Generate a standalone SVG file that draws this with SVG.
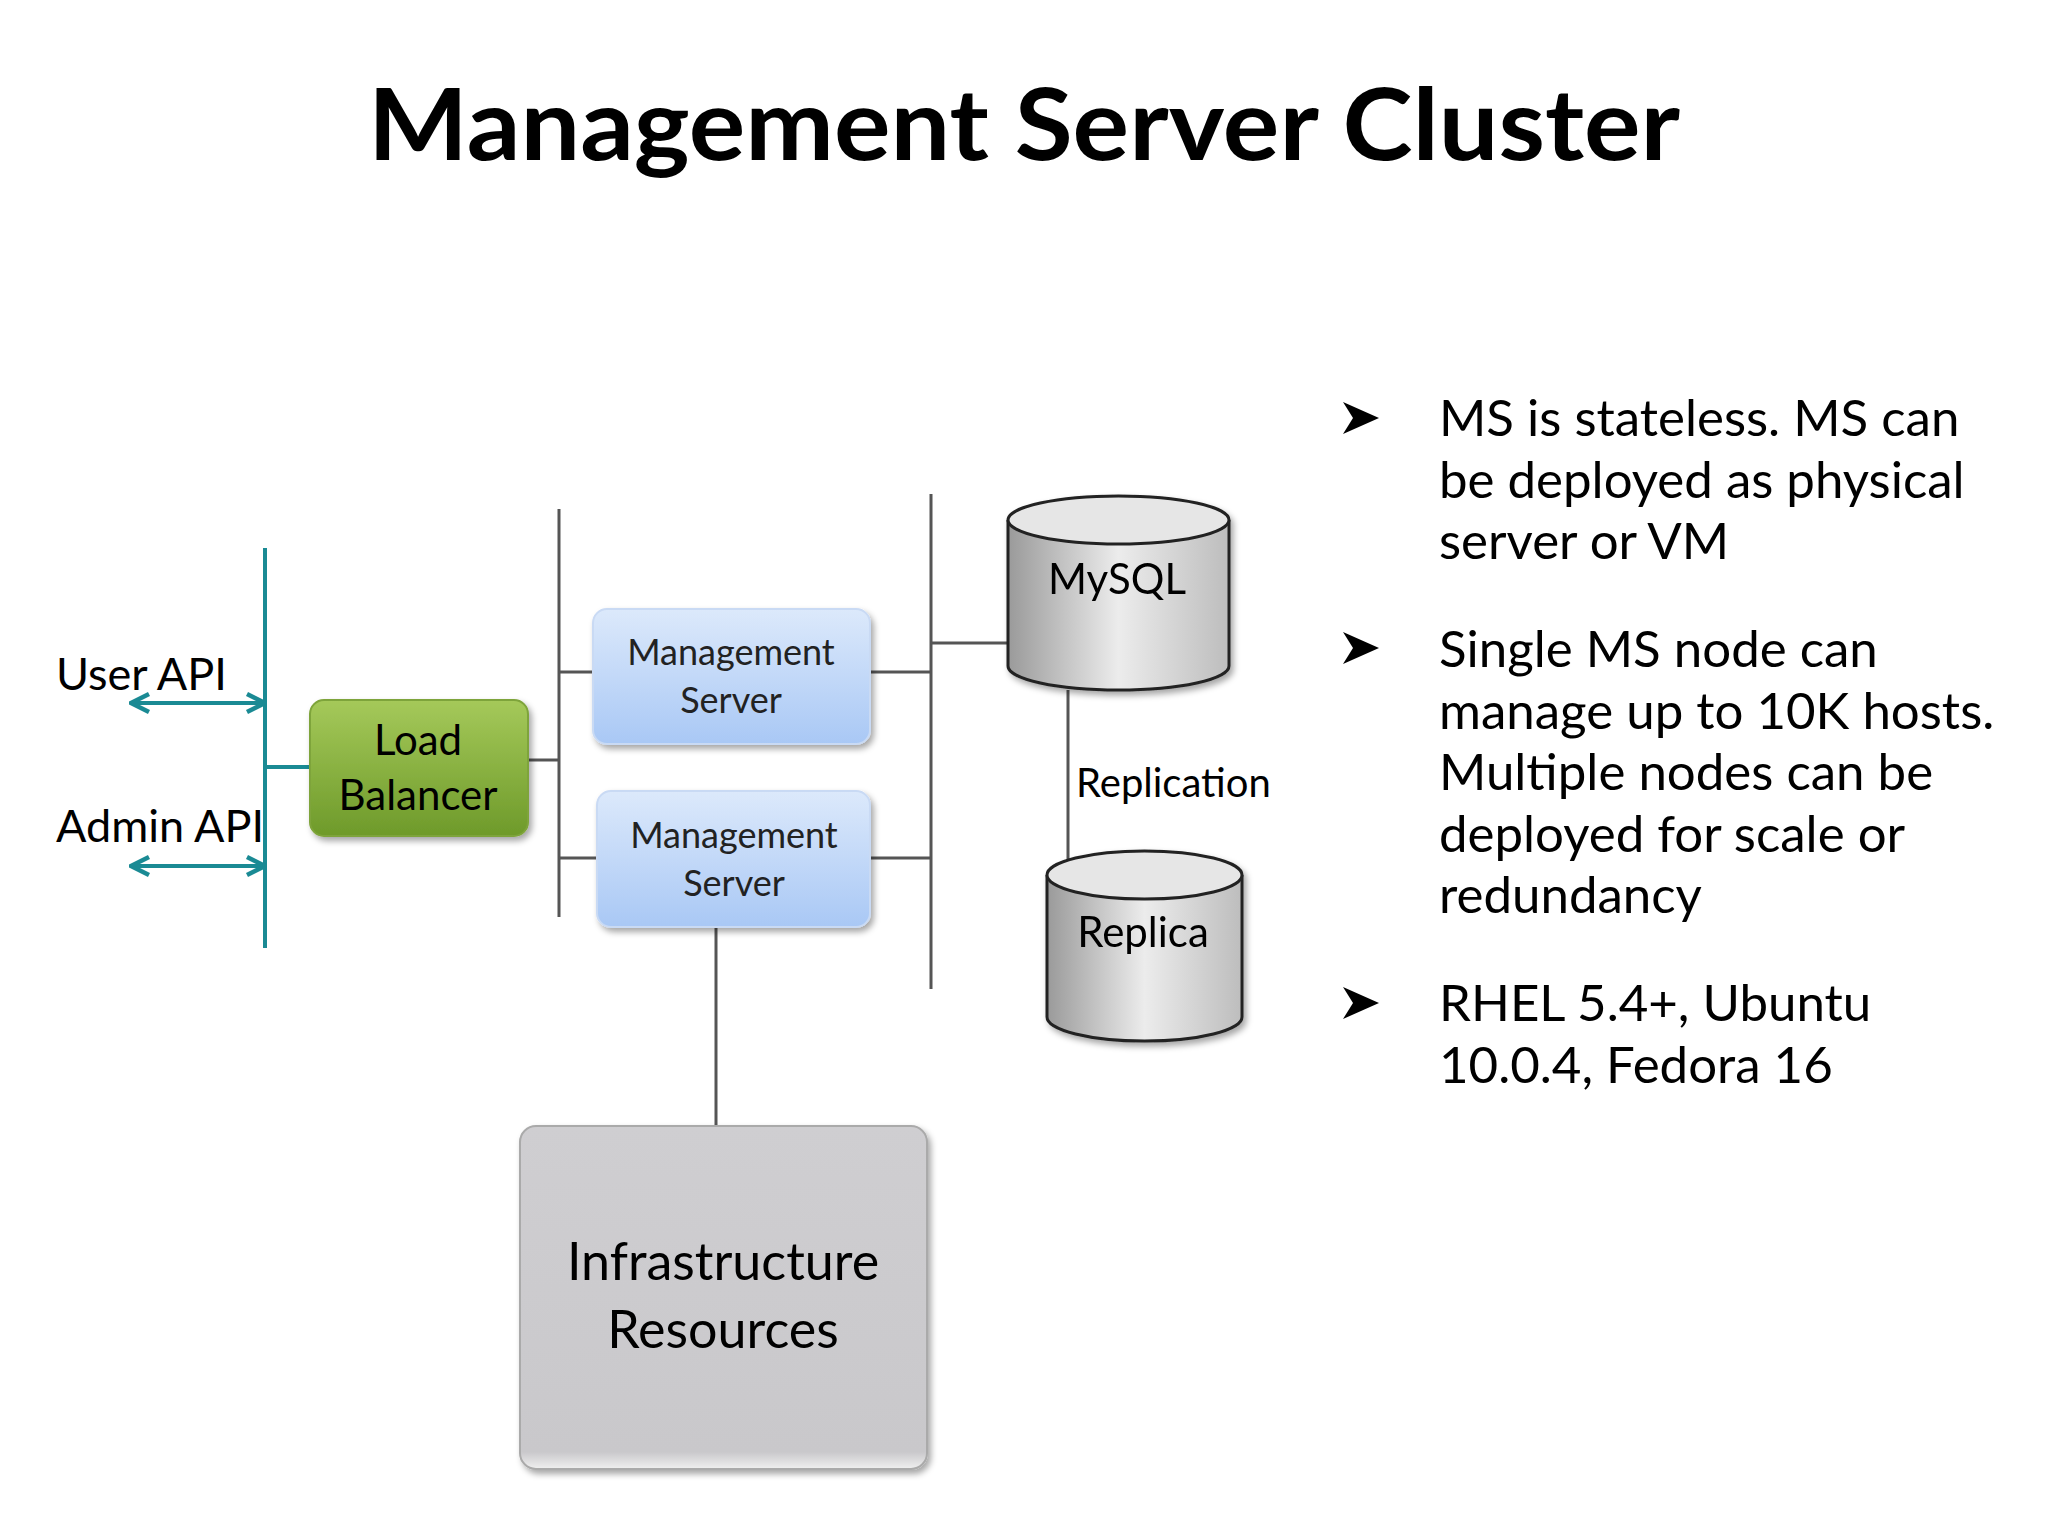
<svg xmlns="http://www.w3.org/2000/svg" width="2048" height="1536" viewBox="0 0 2048 1536">
<defs>
<style>
text{font-family:Lato,"Open Sans","Liberation Sans",sans-serif;fill:#000}
.t{font-size:45px}
.ms{font-size:36px;text-anchor:middle;fill:#222}
.b{font-size:51px}
.g{stroke:#555;stroke-width:3;fill:none}
.teal{stroke:#1a8a94;stroke-width:4;fill:none}
</style>
<linearGradient id="gg" x1="0" y1="0" x2="0" y2="1"><stop offset="0" stop-color="#a5c95a"/><stop offset="1" stop-color="#6e9a2a"/></linearGradient>
<linearGradient id="bg" x1="0" y1="0" x2="0" y2="1"><stop offset="0" stop-color="#dce9fb"/><stop offset="1" stop-color="#a9c8f5"/></linearGradient>
<linearGradient id="cg" x1="0" y1="0" x2="1" y2="0"><stop offset="0" stop-color="#9a9a9a"/><stop offset="0.5" stop-color="#ececec"/><stop offset="1" stop-color="#bdbdbd"/></linearGradient>
<linearGradient id="ig" x1="0" y1="0" x2="0" y2="1"><stop offset="0" stop-color="#cfced1"/><stop offset="0.95" stop-color="#c9c8cb"/><stop offset="1" stop-color="#f0f0f0"/></linearGradient>
<filter id="sh" x="-10%" y="-10%" width="130%" height="130%"><feDropShadow dx="3" dy="4" stdDeviation="3" flood-opacity="0.35"/></filter>
<marker id="ah" viewBox="0 0 24 24" refX="22" refY="12" markerWidth="24" markerHeight="24" markerUnits="userSpaceOnUse" orient="auto-start-reverse"><path d="M4,3 L22,12 L4,21" fill="none" stroke="#1a8a94" stroke-width="4.5" stroke-linejoin="miter"/></marker>
<path id="bul" d="M0,-16 L36,0 L0,16 L10,0 Z" fill="#000"/>
</defs>
<rect width="2048" height="1536" fill="#fff"/>
<text x="1024" y="160" text-anchor="middle" font-size="100" font-weight="bold" textLength="1312" lengthAdjust="spacingAndGlyphs">Management Server Cluster</text>

<g id="connectors">
<line class="teal" x1="265" y1="548" x2="265" y2="948"/>
<line class="teal" x1="131" y1="703" x2="265" y2="703" marker-start="url(#ah)" marker-end="url(#ah)"/>
<line class="teal" x1="131" y1="866" x2="265" y2="866" marker-start="url(#ah)" marker-end="url(#ah)"/>
<line class="teal" x1="265" y1="767" x2="310" y2="767"/>
<line class="g" x1="528" y1="760" x2="559" y2="760"/>
<line class="g" x1="559" y1="509" x2="559" y2="917"/>
<line class="g" x1="559" y1="672" x2="593" y2="672"/>
<line class="g" x1="559" y1="858" x2="597" y2="858"/>
<line class="g" x1="870" y1="672" x2="931" y2="672"/>
<line class="g" x1="870" y1="858" x2="931" y2="858"/>
<line class="g" x1="931" y1="494" x2="931" y2="989"/>
<line class="g" x1="931" y1="643" x2="1008" y2="643"/>
<line class="g" x1="1068" y1="690" x2="1068" y2="862"/>
<line class="g" x1="716" y1="927" x2="716" y2="1126"/>
</g>
<text class="t" x="56" y="690">User API</text>
<text class="t" x="56" y="842">Admin API</text>
<text x="1076" y="797" font-size="40">Replication</text>

<g id="lb">
<rect x="310" y="700" width="218" height="136" rx="14" fill="url(#gg)" stroke="#7ea43a" stroke-width="2" filter="url(#sh)"/>
<text x="418" y="755" text-anchor="middle" font-size="42" fill="#1e2a10">Load</text>
<text x="418" y="810" text-anchor="middle" font-size="42" fill="#1e2a10">Balancer</text>
</g>
<g id="ms1">
<rect x="593" y="609" width="277" height="135" rx="14" fill="url(#bg)" stroke="#c9daf4" stroke-width="2" filter="url(#sh)"/>
<text class="ms" x="731" y="665">Management</text>
<text class="ms" x="731" y="713">Server</text>
</g>
<g id="ms2">
<rect x="597" y="791" width="273" height="136" rx="14" fill="url(#bg)" stroke="#c9daf4" stroke-width="2" filter="url(#sh)"/>
<text class="ms" x="734" y="848">Management</text>
<text class="ms" x="734" y="896">Server</text>
</g>
<g id="mysql" filter="url(#sh)">
<path d="M1008,520 L1008,666 A110.5,24 0 0 0 1229,666 L1229,520" fill="url(#cg)" stroke="#222" stroke-width="3"/>
<ellipse cx="1118.5" cy="520" rx="110.5" ry="24" fill="#e6e6e6" stroke="#222" stroke-width="3"/>
<text x="1117" y="594" text-anchor="middle" font-size="42">MySQL</text>
</g>
<g id="replica" filter="url(#sh)">
<path d="M1047,875 L1047,1017 A97.5,24 0 0 0 1242,1017 L1242,875" fill="url(#cg)" stroke="#222" stroke-width="3"/>
<ellipse cx="1144.5" cy="875" rx="97.5" ry="24" fill="#e6e6e6" stroke="#222" stroke-width="3"/>
<text x="1143" y="947" text-anchor="middle" font-size="42">Replica</text>
</g>
<g id="infra">
<rect x="520" y="1126" width="407" height="343" rx="16" fill="url(#ig)" stroke="#aaa" stroke-width="2" filter="url(#sh)"/>
<text x="723" y="1280" text-anchor="middle" font-size="52">Infrastructure</text>
<text x="723" y="1348" text-anchor="middle" font-size="52">Resources</text>
</g>
<g id="bullets">
<use href="#bul" x="1343" y="418"/>
<use href="#bul" x="1343" y="648"/>
<use href="#bul" x="1343" y="1003"/>
<text class="b" x="1439" y="436">MS is stateless. MS can</text>
<text class="b" x="1439" y="498">be deployed as physical</text>
<text class="b" x="1439" y="559">server or VM</text>
<text class="b" x="1439" y="667">Single MS node can</text>
<text class="b" x="1439" y="729">manage up to 10K hosts.</text>
<text class="b" x="1439" y="790">Multiple nodes can be</text>
<text class="b" x="1439" y="852">deployed for scale or</text>
<text class="b" x="1439" y="913">redundancy</text>
<text class="b" x="1439" y="1021">RHEL 5.4+, Ubuntu</text>
<text class="b" x="1439" y="1083">10.0.4, Fedora 16</text>
</g>
</svg>
